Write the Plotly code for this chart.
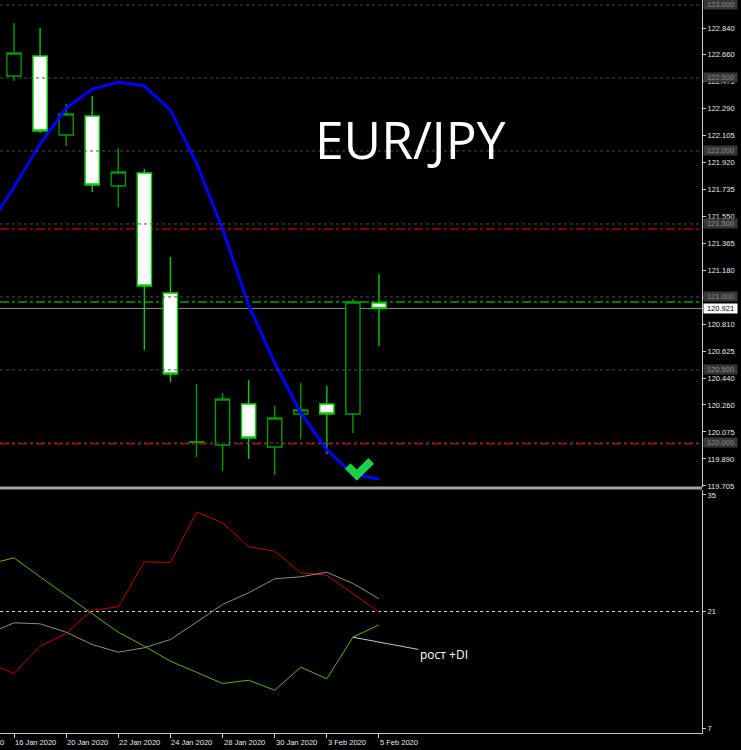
import plotly.graph_objects as go

# ---------------- data ----------------
dates = ["16 Jan 2020", "17 Jan 2020", "20 Jan 2020", "21 Jan 2020", "22 Jan 2020",
         "23 Jan 2020", "24 Jan 2020", "27 Jan 2020", "28 Jan 2020", "29 Jan 2020",
         "30 Jan 2020", "31 Jan 2020", "3 Feb 2020", "4 Feb 2020", "5 Feb 2020"]
opens  = [122.513, 122.650, 122.109, 122.239, 121.760, 121.849, 121.027, 120.004,
          119.986, 120.267, 119.972, 120.198, 120.267, 120.198, 120.958]
highs  = [122.876, 122.842, 122.321, 122.376, 122.020, 121.876, 121.273, 120.404,
          120.342, 120.431, 120.253, 120.410, 120.390, 120.986, 121.157]
lows   = [122.479, 122.123, 122.034, 121.719, 121.616, 120.637, 120.417, 119.904,
          119.808, 119.890, 119.780, 120.027, 119.924, 120.068, 120.664]
closes = [122.671, 122.137, 122.253, 121.767, 121.856, 121.075, 120.472, 120.008,
          120.301, 120.034, 120.171, 120.226, 120.198, 120.965, 120.921]

# indicator series start one bar earlier (15 Jan 2020)
ma_values = [121.472, 121.753, 122.047, 122.294, 122.424, 122.472, 122.445, 122.280,
             121.917, 121.465, 120.945, 120.547, 120.205, 119.952, 119.787, 119.753]
adx_main  = [18.30, 19.64, 19.52, 18.51, 17.03, 16.11, 16.64, 17.63,
             19.71, 21.84, 23.25, 24.93, 25.17, 25.72, 24.37, 22.53]
plus_di   = [26.65, 27.45, 25.17, 22.92, 20.76, 18.51, 16.83, 15.03,
             13.70, 12.35, 12.74, 11.54, 14.31, 12.91, 17.91, 19.40]
minus_di  = [14.87, 13.55, 16.83, 18.36, 21.16, 21.56, 26.97, 26.89,
             32.94, 31.66, 28.78, 28.25, 25.65, 25.36, 23.16, 20.92]

date_tick_labels = ["14 Jan 2020", "16 Jan 2020", "20 Jan 2020", "22 Jan 2020", "24 Jan 2020",
                    "28 Jan 2020", "30 Jan 2020", "3 Feb 2020", "5 Feb 2020"]
date_tick_bars = [-2, 0, 2, 4, 6, 8, 10, 12, 14]

price_ticks = [122.840, 122.660, 122.475, 122.290, 122.105, 121.920, 121.735, 121.550,
               121.365, 121.180, 120.995, 120.810, 120.625, 120.440, 120.260, 120.075,
               119.890, 119.705]
round_levels = [123.000, 122.500, 122.000, 121.500, 121.000, 120.500, 120.000]
red_levels = [121.465, 119.995]
green_level = 120.965
current_price = 120.921
adx_ticks = [35, 21, 7]
adx_level = 21

check_bars = [12.8, 13.15, 13.7]
check_prices = [119.842, 119.780, 119.877]

title_text = "EUR/JPY"
note_text = "рост +DI"

# ---------------- figure ----------------
W, H = 741, 750
S = 750 / 746.0          # small vertical compensation


def py(pix):
    """reference pixel row -> paper fraction"""
    return 1 - pix * S / H


bars = list(range(len(dates)))
ind_bars = list(range(-1, len(dates)))

XR = [-0.537, 26.39]
XD = [0, 702 / W]
Y1D = [py(487), 1]
Y2D = [py(733), py(490)]

fig = go.Figure()

fig.add_trace(go.Candlestick(
    x=bars, open=opens, high=highs, low=lows, close=closes,
    increasing=dict(fillcolor="#000000", line=dict(color="#009a00", width=1.4)),
    decreasing=dict(fillcolor="#ffffff", line=dict(color="#00d000", width=1.4)),
    whiskerwidth=0, xaxis="x", yaxis="y", showlegend=False, hoverinfo="skip"))

fig.add_trace(go.Scatter(x=ind_bars, y=ma_values, mode="lines",
                         line=dict(color="#0000ff", width=3), xaxis="x", yaxis="y",
                         showlegend=False, hoverinfo="skip"))

fig.add_trace(go.Scatter(x=check_bars, y=check_prices, mode="lines",
                         line=dict(color="#1ccf4a", width=8), xaxis="x", yaxis="y",
                         showlegend=False, hoverinfo="skip"))

fig.add_trace(go.Scatter(x=ind_bars, y=minus_di, mode="lines",
                         line=dict(color="#c00000", width=1), xaxis="x2", yaxis="y2",
                         showlegend=False, hoverinfo="skip"))
fig.add_trace(go.Scatter(x=ind_bars, y=adx_main, mode="lines",
                         line=dict(color="#8c8c8c", width=1), xaxis="x2", yaxis="y2",
                         showlegend=False, hoverinfo="skip"))
fig.add_trace(go.Scatter(x=ind_bars, y=plus_di, mode="lines",
                         line=dict(color="#5fb000", width=1), xaxis="x2", yaxis="y2",
                         showlegend=False, hoverinfo="skip"))

shapes = []
for lv in round_levels:
    shapes.append(dict(type="line", xref="x domain", yref="y", x0=0, x1=1, y0=lv, y1=lv,
                       line=dict(color="#4e4e4e", width=1, dash="3px,3px"), layer="above"))
for lv in red_levels:
    shapes.append(dict(type="line", xref="x domain", yref="y", x0=0, x1=1, y0=lv, y1=lv,
                       line=dict(color="#b00000", width=1.5, dash="dashdot"), layer="below"))
shapes.append(dict(type="line", xref="x domain", yref="y", x0=0, x1=1, y0=green_level, y1=green_level,
                   line=dict(color="#00a000", width=1.5, dash="dashdot"), layer="below"))
shapes.append(dict(type="line", xref="x domain", yref="y", x0=0, x1=1, y0=current_price, y1=current_price,
                   line=dict(color="#8a8a8a", width=1), layer="below"))
shapes.append(dict(type="line", xref="x2 domain", yref="y2", x0=0, x1=1, y0=adx_level, y1=adx_level,
                   line=dict(color="#d0d0d0", width=1, dash="3px,3px"), layer="below"))
# panel separator
shapes.append(dict(type="line", xref="paper", yref="paper", x0=0, x1=XD[1],
                   y0=py(488), y1=py(488), line=dict(color="#a0a0a0", width=3)))

annotations = []
label_font = dict(family="Liberation Sans, Arial, sans-serif", size=7.5, color="#e8e8f0")
for lv in round_levels:
    annotations.append(dict(xref="paper", yref="y", x=XD[1] + 1.5 / W, y=lv, xanchor="left",
                            yanchor="middle", text=f"{lv:.3f}", showarrow=False,
                            bgcolor="#383838", width=33, height=9, borderpad=0,
                            font=dict(family="Liberation Sans, Arial, sans-serif", size=7.5, color="#8a8a8a")))
annotations.append(dict(xref="paper", yref="y", x=XD[1] + 1.5 / W, y=current_price, xanchor="left",
                        yanchor="middle", text=f"{current_price:.3f}", showarrow=False,
                        bgcolor="#ffffff", width=33, height=9, borderpad=0,
                        font=dict(family="Liberation Sans, Arial, sans-serif", size=7.5, color="#000000")))

for b, t in zip(date_tick_bars, date_tick_labels):
    px = XD[0] + (b - XR[0]) / (XR[1] - XR[0]) * (XD[1] - XD[0])
    annotations.append(dict(xref="paper", yref="paper", x=px, y=py(742), xanchor="left",
                            yanchor="middle", text=t, showarrow=False, xshift=-1, font=label_font))

annotations.append(dict(xref="paper", yref="paper", x=410 / W, y=py(139),
                        xanchor="center", yanchor="middle", text=title_text, showarrow=False,
                        font=dict(family="Open Sans, sans-serif", size=51.5, color="#ffffff")))

annotations.append(dict(xref="x2", yref="y2", x=ind_bars[-2], y=plus_di[-2], text=note_text,
                        showarrow=True, arrowhead=0, arrowwidth=1, arrowcolor="#c8c8c8",
                        ax=91, ay=17, standoff=0, xanchor="center",
                        font=dict(family="Open Sans, sans-serif", size=12, color="#ffffff")))

axis_common = dict(showgrid=False, zeroline=False, color="#e0e0e0")

fig.update_layout(
    width=W, height=H, margin=dict(l=0, r=0, t=0, b=0),
    paper_bgcolor="#000000", plot_bgcolor="#000000",
    showlegend=False, boxgap=0.22,
    shapes=shapes, annotations=annotations,
    xaxis=dict(domain=XD, range=XR, anchor="y", showticklabels=False, ticks="",
               rangeslider=dict(visible=False), **axis_common),
    yaxis=dict(domain=Y1D, range=[119.698, 123.034], anchor="x", side="right",
               tickvals=price_ticks, ticktext=[f"{v:.3f}" for v in price_ticks],
               ticks="outside", ticklen=3, tickcolor="#c8c8c8",
               showline=True, linecolor="#c8c8c8", linewidth=1,
               tickfont=label_font, **axis_common),
    xaxis2=dict(domain=XD, range=XR, anchor="y2", matches="x", showticklabels=False,
                tickvals=[b for b in date_tick_bars], ticks="outside", ticklen=4,
                tickcolor="#c8c8c8", showline=True, linecolor="#c8c8c8", linewidth=1,
                **axis_common),
    yaxis2=dict(domain=Y2D, range=[6.4, 35.6], anchor="x2", side="right",
                tickvals=adx_ticks, ticktext=[str(v) for v in adx_ticks],
                ticks="outside", ticklen=3, tickcolor="#c8c8c8",
                showline=True, linecolor="#c8c8c8", linewidth=1,
                tickfont=label_font, **axis_common),
)

fig.write_html("out.html")
